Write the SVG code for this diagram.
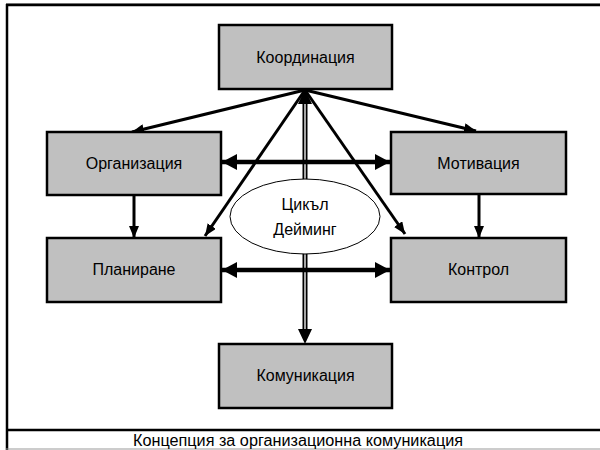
<svg xmlns="http://www.w3.org/2000/svg" width="600" height="450" viewBox="0 0 600 450">
  <style>
    .box { fill: #c0c0c0; stroke: #000; stroke-width: 2.5; }
    .lbl { font-family: "Liberation Sans", Arial, sans-serif; font-size: 16px; fill: #000; text-anchor: middle; }
    .thin { stroke: #000; stroke-width: 3; fill: none; }
    .thick { stroke: #000; stroke-width: 4.5; fill: none; }
    .frame { stroke: #000; fill: none; }
  </style>
  <defs>
    <marker id="ah" markerUnits="userSpaceOnUse" markerWidth="12" markerHeight="10" refX="12" refY="5" orient="auto">
      <path d="M0,0 L12,5 L0,10 z" fill="#000"/>
    </marker>
    <marker id="ahBig" markerUnits="userSpaceOnUse" markerWidth="15" markerHeight="16" refX="15" refY="8" orient="auto-start-reverse">
      <path d="M0,0 L15,8 L0,16 z" fill="#000"/>
    </marker>
  </defs>

  <rect x="0" y="0" width="600" height="450" fill="#fff"/>

  <!-- frame -->
  <g id="frame">
    <line x1="6" y1="3.5" x2="600" y2="3.5" stroke="#999" stroke-width="1"/>
    <line x1="6" y1="5" x2="600" y2="5" class="frame" stroke-width="2.5"/>
    <line x1="7" y1="4" x2="7" y2="450" class="frame" stroke-width="2.5"/>
    <line x1="6" y1="430" x2="600" y2="430" class="frame" stroke-width="2.5"/>
    <line x1="6" y1="449" x2="600" y2="449" stroke="#999" stroke-width="1.2"/>
  </g>

  <!-- connectors -->
  <g id="connectors">
    <!-- double line vertical -->
    <line x1="305" y1="100" x2="305" y2="332" stroke="#000" stroke-width="5"/>
    <line x1="305" y1="100" x2="305" y2="332" stroke="#d0d0d0" stroke-width="1.6"/>
    <polygon points="305,89 298,104 312,104" fill="#000"/>
    <polygon points="305,344 298,329 312,329" fill="#000"/>

    <!-- diagonals from hub -->
    <line x1="305" y1="90" x2="132" y2="132" class="thin" marker-end="url(#ah)"/>
    <line x1="305" y1="90" x2="476" y2="131" class="thin" marker-end="url(#ah)"/>
    <line x1="305" y1="90" x2="205" y2="236" class="thin" marker-end="url(#ah)"/>
    <line x1="305" y1="90" x2="405" y2="234" class="thin" marker-end="url(#ah)"/>

    <!-- verticals -->
    <line x1="134" y1="196" x2="134" y2="238" class="thin" marker-end="url(#ah)"/>
    <line x1="479" y1="195" x2="479" y2="238" class="thin" marker-end="url(#ah)"/>

    <!-- horizontal double-headed -->
    <line x1="222" y1="162" x2="390" y2="162" class="thick" marker-start="url(#ahBig)" marker-end="url(#ahBig)"/>
    <line x1="222" y1="270" x2="390" y2="270" class="thick" marker-start="url(#ahBig)" marker-end="url(#ahBig)"/>
  </g>

  <g id="deming">
    <ellipse cx="305" cy="216.5" rx="75" ry="37.5" fill="#fff" stroke="#000" stroke-width="1"/>
    <text class="lbl" x="305" y="210">Цикъл</text>
    <text class="lbl" x="305" y="235">Дейминг</text>
  </g>

  <g id="koordinacia">
    <rect class="box" x="219" y="25" width="173" height="64"/>
    <text class="lbl" x="305.5" y="63">Координация</text>
  </g>
  <g id="organizacia">
    <rect class="box" x="47" y="132" width="174" height="63"/>
    <text class="lbl" x="134" y="169">Организация</text>
  </g>
  <g id="motivacia">
    <rect class="box" x="391" y="132" width="175" height="62"/>
    <text class="lbl" x="478.5" y="169">Мотивация</text>
  </g>
  <g id="planirane">
    <rect class="box" x="47" y="238" width="174" height="64"/>
    <text class="lbl" x="134" y="275">Планиране</text>
  </g>
  <g id="kontrol">
    <rect class="box" x="391" y="238" width="175" height="64"/>
    <text class="lbl" x="478.5" y="275">Контрол</text>
  </g>
  <g id="komunikacia">
    <rect class="box" x="219" y="344" width="173" height="64"/>
    <text class="lbl" x="305.5" y="381">Комуникация</text>
  </g>

  <text class="lbl" x="298" y="446" textLength="330" lengthAdjust="spacingAndGlyphs" style="font-size:16px">Концепция за организационна комуникация</text>
</svg>
